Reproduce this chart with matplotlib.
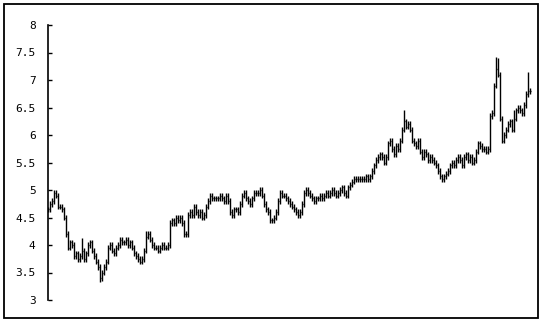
import matplotlib
matplotlib.use("Agg")
import matplotlib.pyplot as plt
from matplotlib.patches import Rectangle

# daily closes (one bar every 2 px)
closes = [
    4.65, 4.75, 4.8, 4.95, 4.9, 4.7, 4.7, 4.65, 4.5, 4.2,
    3.95, 4.05, 4.0, 3.8, 3.85, 3.75, 3.8, 3.9, 3.75, 3.85,
    4.0, 4.05, 3.9, 3.8, 3.7, 3.6, 3.4, 3.5, 3.6, 3.7,
    3.95, 4.0, 3.9, 3.85, 3.95, 4.0, 4.1, 4.05, 4.05, 4.1,
    4.0, 4.05, 3.95, 3.85, 3.8, 3.75, 3.7, 3.75, 3.9, 4.15,
    4.2, 4.1, 4.0, 3.95, 3.95, 3.9, 3.95, 4.0, 3.95, 3.95,
    4.0, 4.4, 4.45, 4.4, 4.5, 4.45, 4.5, 4.4, 4.2, 4.2,
    4.55, 4.6, 4.55, 4.7, 4.6, 4.55, 4.6, 4.5, 4.55, 4.7,
    4.8, 4.9, 4.85, 4.85, 4.85, 4.85, 4.9, 4.85, 4.8, 4.9,
    4.8, 4.6, 4.55, 4.65, 4.65, 4.6, 4.75, 4.9, 4.95, 4.85,
    4.8, 4.75, 4.85, 4.95, 4.95, 4.95, 5.0, 4.9, 4.75, 4.65,
    4.6, 4.45, 4.45, 4.5, 4.6, 4.8, 4.95, 4.9, 4.9, 4.85,
    4.8, 4.75, 4.7, 4.65, 4.6, 4.55, 4.6, 4.75, 4.95, 5.0,
    4.95, 4.9, 4.85, 4.8, 4.85, 4.85, 4.9, 4.85, 4.9, 4.95,
    4.9, 4.95, 5.0, 4.95, 4.9, 4.95, 5.0, 5.05, 4.95, 4.9,
    5.05, 5.1, 5.15, 5.2, 5.2, 5.2, 5.2, 5.2, 5.2, 5.25,
    5.2, 5.25, 5.35, 5.45, 5.55, 5.6, 5.65, 5.6, 5.5, 5.6,
    5.85, 5.9, 5.75, 5.65, 5.8, 5.75, 5.9, 6.1, 6.25, 6.15,
    6.2, 6.1, 5.9, 5.85, 5.8, 5.9, 5.7, 5.6, 5.7, 5.65,
    5.55, 5.6, 5.55, 5.5, 5.45, 5.35, 5.25, 5.2, 5.25, 5.3,
    5.35, 5.45, 5.5, 5.45, 5.55, 5.6, 5.55, 5.45, 5.6, 5.65,
    5.55, 5.6, 5.5, 5.55, 5.7, 5.85, 5.8, 5.75, 5.75, 5.7,
    5.75, 6.35, 6.4, 6.9, 7.2, 7.1, 6.3, 5.9, 6.0, 6.1,
    6.2, 6.25, 6.1, 6.3, 6.45, 6.5, 6.45, 6.4, 6.55, 6.75,
    6.8, 6.8,
]

# a few visible wicks beyond the close-to-close range
spike_idx = [3, 17, 26, 49, 59, 68, 178, 224, 225, 226, 233, 240]
spike_val = [5.0, 4.12, 3.32, 4.25, 3.92, 4.15, 6.45, 7.42, 7.4, 6.6, 6.45, 7.15]

yticks = [3, 3.5, 4, 4.5, 5, 5.5, 6, 6.5, 7, 7.5, 8]
ytick_labels = ["3", "3.5", "4", "4.5", "5", "5.5", "6", "6.5", "7", "7.5", "8"]

fig = plt.figure(figsize=(5.44, 3.24), dpi=100)
ax = fig.add_axes([48 / 544, 1 - 300 / 324, 485 / 544, 275 / 324])

n = len(closes)
xs = list(range(n))
lo = [min(closes[max(i - 1, 0)], closes[i]) - 0.05 for i in xs]
hi = [max(closes[max(i - 1, 0)], closes[i]) + 0.05 for i in xs]
for i, v in zip(spike_idx, spike_val):
    lo[i] = min(lo[i], v)
    hi[i] = max(hi[i], v)

ax.vlines(xs, lo, hi, color="black", lw=1.0)
ax.hlines(closes, xs, [x + 0.7 for x in xs], color="black", lw=1.0)

ax.set_xlim(0, n + 0.5)
ax.set_ylim(3, 8)
ax.set_yticks(yticks)
ax.set_yticklabels(ytick_labels, family="DejaVu Sans Mono", fontsize=8)
ax.set_xticks([])
for s in ["top", "right", "bottom"]:
    ax.spines[s].set_visible(False)
ax.spines["left"].set_linewidth(1.2)
ax.tick_params(axis="y", direction="in", length=3, width=1, pad=9)

# frame around the whole picture
fig.patches.append(Rectangle((4 / 544, 6 / 324), 534 / 544, 314 / 324,
                             transform=fig.transFigure, fill=False,
                             edgecolor="black", lw=1.3))

fig.savefig("out.png", dpi=100)
